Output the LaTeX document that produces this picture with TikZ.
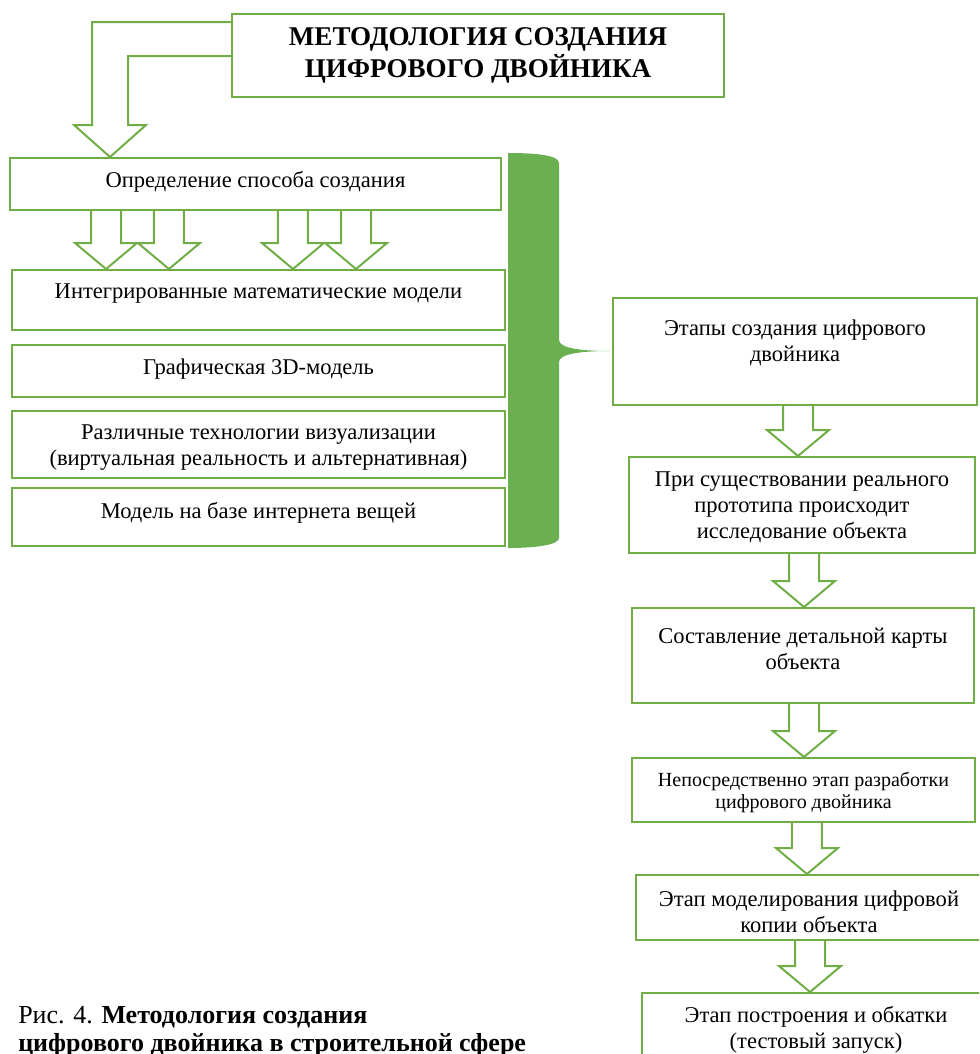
\documentclass[tikz,border=0pt]{standalone}
\usepackage{fontspec}
\setmainfont{Liberation Serif}
\usetikzlibrary{calc}

\definecolor{boxgreen}{RGB}{112,173,71}
\definecolor{bracegreen}{RGB}{106,176,80}

% hollow block arrow from one box down to the next
\newcommand{\hollowarrow}[3][0pt]{%
  \draw[hollow] let \p1=(#2.south), \p2=(#3.north) in
    ({\x1+#1-11.25pt},\y1) -- ({\x1+#1-11.25pt},{\y2+19.5pt}) -- ({\x1+#1-23.25pt},{\y2+19.5pt})
    -- ({\x1+#1},\y2) -- ({\x1+#1+23.25pt},{\y2+19.5pt}) -- ({\x1+#1+11.25pt},{\y2+19.5pt})
    -- ({\x1+#1+11.25pt},\y1);}

\begin{document}
\begin{tikzpicture}[
  x=0.75pt, y=-0.75pt,
  box/.style={draw=boxgreen, line width=1.5pt, inner sep=0pt},
  txt/.style={align=center, inner sep=0pt, font=\fontsize{16.9}{19.5}\selectfont},
  smalltxt/.style={align=center, inner sep=0pt, font=\fontsize{15}{16.5}\selectfont},
  hollow/.style={draw=boxgreen, line width=1.5pt, line join=miter}
]
\clip (0,0) rectangle (979,1054);

% Title
\node[box, minimum width=369pt, minimum height=62.25pt, align=center,
  font=\fontsize{20.3}{24}\selectfont\bfseries] (title) at (478,55.5) {МЕТОДОЛОГИЯ СОЗДАНИЯ\\ЦИФРОВОГО ДВОЙНИКА};

% Left column
\node[box, minimum width=368.25pt, minimum height=39pt] (method) at (255.5,184) {};
\node[txt] at (255.5,182) {Определение способа создания};
\node[box, minimum width=369.75pt, minimum height=45pt] (math) at (258.5,300) {};
\node[txt] at (258.5,294) {Интегрированные математические модели};
\node[box, minimum width=369.75pt, minimum height=39pt] (graph) at (258.5,371) {};
\node[txt] at (258.5,369) {Графическая 3D-модель};
\node[box, minimum width=369.75pt, minimum height=50.25pt] (vis) at (258.5,444.5) {};
\node[txt] at (258.5,448) {Различные технологии визуализации\\(виртуальная реальность и альтернативная)};
\node[box, minimum width=369.75pt, minimum height=43.5pt] (iot) at (258.5,517) {};
\node[txt] at (258.5,513) {Модель на базе интернета вещей};

% Right column
\node[box, minimum width=273pt, minimum height=80.25pt] (stages) at (795,351.5) {};
\node[txt] at (795,343) {Этапы создания цифрового\\двойника};
\node[box, minimum width=259.5pt, minimum height=72pt] (proto) at (802,505) {};
\node[txt] at (802,507) {При существовании реального\\прототипа происходит\\исследование объекта};
\node[box, minimum width=256.5pt, minimum height=71.25pt] (map) at (803,655.5) {};
\node[txt] at (803,649) {Составление детальной карты\\объекта};
\node[box, minimum width=257.25pt, minimum height=48pt] (develop) at (803.5,790) {};
\node[smalltxt] at (803.5,792) {Непосредственно этап разработки\\цифрового двойника};
\node[box, minimum width=259.5pt, minimum height=48.75pt] (model) at (809,907.5) {};
\node[txt] at (809,911.5) {Этап моделирования цифровой\\копии объекта};
\node[box, minimum width=261pt, minimum height=72.75pt] (test) at (816,1041.5) {};
\node[txt] at (816,1030) {Этап построения и обкатки\\(тестовый запуск)};

% Caption
\node[anchor=west, align=left, inner sep=0pt, font=\fontsize{19.5}{21}\selectfont] (caption) at (18,1032)
  {Рис. 4. \textbf{Методология создания}\\\textbf{цифрового двойника в строительной сфере}};

% Bent arrow from the title
\draw[hollow] (232,22) -- (92,22) -- (92,125) -- (74,125) -- (110,157) -- (146,125) -- (128,125) -- (128,56) -- (232,56);

% Arrows
\hollowarrow[-112.1pt]{method}{math}
\hollowarrow[-64.9pt]{method}{math}
\hollowarrow[28.1pt]{method}{math}
\hollowarrow[75.4pt]{method}{math}
\hollowarrow[2.25pt]{stages}{proto}
\hollowarrow[1.5pt]{proto}{map}
\hollowarrow[0.75pt]{map}{develop}
\hollowarrow[2.6pt]{develop}{model}
\hollowarrow[0.75pt]{model}{test}

% Brace
\fill[bracegreen] (508,153) .. controls (535,153) and (559,155) .. (559,163) -- (559,340)
  .. controls (559,348) and (580,351) .. (610,351) .. controls (580,351) and (559,354) .. (559,362)
  -- (559,538) .. controls (559,545) and (535,548) .. (508,548) -- cycle;
\end{tikzpicture}
\end{document}
